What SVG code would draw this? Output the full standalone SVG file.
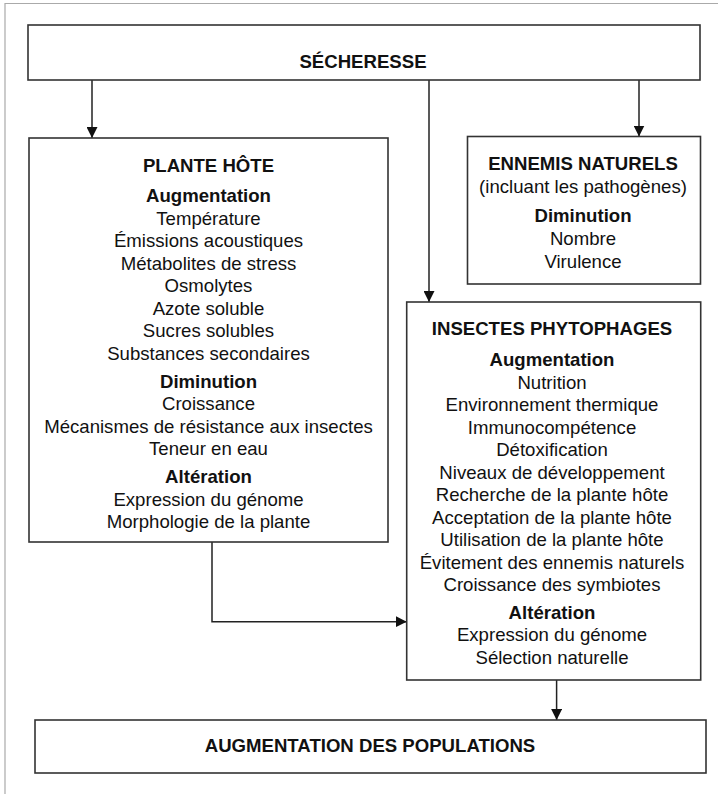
<svg xmlns="http://www.w3.org/2000/svg" width="718" height="794" viewBox="0 0 718 794">
  <defs>
    <marker id="arrow" markerUnits="userSpaceOnUse" markerWidth="11" markerHeight="11" refX="11" refY="5.5" orient="auto">
      <path d="M0,0 L11,5.5 L0,11 Z" fill="#111"/>
    </marker>
    <style>
      .box { fill: #fff; stroke: #333; stroke-width: 1.6; }
      .frame { fill: none; stroke: #aaa; stroke-width: 1.2; }
      .conn { fill: none; stroke: #222; stroke-width: 1.5; marker-end: url(#arrow); }
      text { font-family: "Liberation Sans", Arial, Helvetica, sans-serif; font-size: 18.6px; fill: #111; text-anchor: middle; }
      .b { font-weight: bold; }
    </style>
  </defs>
  <rect width="718" height="794" fill="#fff"/>
  <path class="frame" d="M5,794 V3.5 H718"/>

  <g id="connectors">
    <path class="conn" d="M92,80 V138"/>
    <path class="conn" d="M639,80 V136.5"/>
    <path class="conn" d="M429,80 V302"/>
    <path class="conn" d="M212,542 V621.7 H406.7"/>
    <path class="conn" d="M556.6,680 V720"/>
  </g>

  <g id="secheresse">
    <rect class="box" x="28" y="25" width="672" height="55"/>
    <text class="b" x="363" y="68">SÉCHERESSE</text>
  </g>

  <g id="plante-hote">
    <rect class="box" x="29" y="138" width="359" height="404"/>
    <text class="b" x="208.5" y="172">PLANTE HÔTE</text>
    <text class="b" x="208.5" y="202">Augmentation</text>
    <text x="208.5" y="224.5">Température</text>
    <text x="208.5" y="247">Émissions acoustiques</text>
    <text x="208.5" y="269.5">Métabolites de stress</text>
    <text x="208.5" y="292">Osmolytes</text>
    <text x="208.5" y="314.5">Azote soluble</text>
    <text x="208.5" y="337">Sucres solubles</text>
    <text x="208.5" y="359.5">Substances secondaires</text>
    <text class="b" x="208.5" y="387.5">Diminution</text>
    <text x="208.5" y="410">Croissance</text>
    <text x="208.5" y="432.5">Mécanismes de résistance aux insectes</text>
    <text x="208.5" y="455">Teneur en eau</text>
    <text class="b" x="208.5" y="483">Altération</text>
    <text x="208.5" y="505.5">Expression du génome</text>
    <text x="208.5" y="528">Morphologie de la plante</text>
  </g>

  <g id="ennemis-naturels">
    <rect class="box" x="467.5" y="136.5" width="233" height="147.5"/>
    <text class="b" x="583" y="170">ENNEMIS NATURELS</text>
    <text x="583" y="193">(incluant les pathogènes)</text>
    <text class="b" x="583" y="222">Diminution</text>
    <text x="583" y="245">Nombre</text>
    <text x="583" y="267.5">Virulence</text>
  </g>

  <g id="insectes-phytophages">
    <rect class="box" x="406.7" y="302" width="294" height="378"/>
    <text class="b" x="552" y="335">INSECTES PHYTOPHAGES</text>
    <text class="b" x="552" y="366">Augmentation</text>
    <text x="552" y="388.5">Nutrition</text>
    <text x="552" y="411">Environnement thermique</text>
    <text x="552" y="433.5">Immunocompétence</text>
    <text x="552" y="456">Détoxification</text>
    <text x="552" y="478.5">Niveaux de développement</text>
    <text x="552" y="501">Recherche de la plante hôte</text>
    <text x="552" y="523.5">Acceptation de la plante hôte</text>
    <text x="552" y="546">Utilisation de la plante hôte</text>
    <text x="552" y="568.5">Évitement des ennemis naturels</text>
    <text x="552" y="591">Croissance des symbiotes</text>
    <text class="b" x="552" y="618.5">Altération</text>
    <text x="552" y="641">Expression du génome</text>
    <text x="552" y="663.5">Sélection naturelle</text>
  </g>

  <g id="augmentation-populations">
    <rect class="box" x="35" y="720" width="671" height="53"/>
    <text class="b" x="370" y="752">AUGMENTATION DES POPULATIONS</text>
  </g>
</svg>
